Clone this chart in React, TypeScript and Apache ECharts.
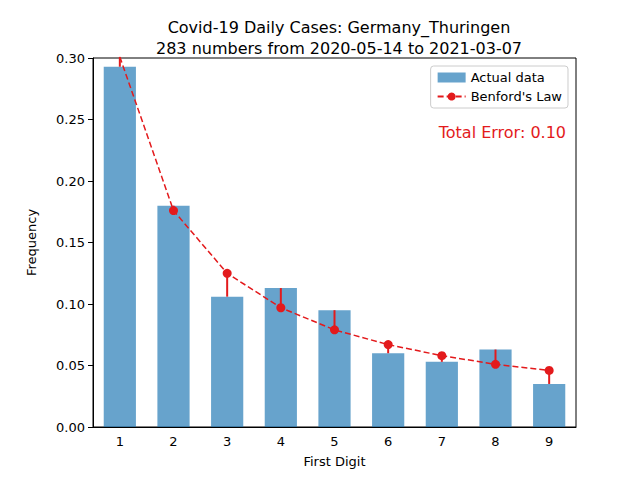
import React, { useEffect, useRef } from 'react';
import * as echarts from 'echarts';

const digits = ['1', '2', '3', '4', '5', '6', '7', '8', '9'];
const actual = [0.293, 0.18, 0.106, 0.113, 0.095, 0.06, 0.053, 0.063, 0.035];
const benford = [0.301, 0.176, 0.125, 0.097, 0.079, 0.067, 0.058, 0.051, 0.046];
const yTicks = [0, 0.05, 0.1, 0.15, 0.2, 0.25, 0.3];

const App: React.FC = () => {
  const ref = useRef<HTMLDivElement>(null);

  useEffect(() => {
    if (!ref.current) return;
    const chart = echarts.init(ref.current, undefined, { renderer: 'svg' });
    const red = '#e31a1c';
    const font = 'DejaVu Sans';

    chart.setOption({
      animation: false,
      textStyle: { fontFamily: font, color: '#000' },
      title: {
        text: 'Covid-19 Daily Cases: Germany_Thuringen\n283 numbers from 2020-05-14 to 2021-03-07',
        left: 334,
        textAlign: 'center',
        top: 12,
        textStyle: { fontFamily: font, fontSize: 16, fontWeight: 'normal', lineHeight: 21, color: '#000' }
      },
      grid: {
        left: 93, right: 64, top: 58, bottom: 53,
        show: true, borderColor: '#000', borderWidth: 1, backgroundColor: 'transparent'
      },
      legend: {
        orient: 'vertical',
        right: 72,
        top: 66,
        itemGap: 6,
        itemWidth: 28,
        itemHeight: 10,
        borderColor: '#ccc',
        borderWidth: 1,
        borderRadius: 3,
        padding: [5, 6],
        textStyle: { fontFamily: font, fontSize: 13, color: '#000' },
        data: [
          { name: 'Actual data', icon: 'rect' },
          { name: "Benford's Law" }
        ]
      },
      graphic: [{
        type: 'text',
        right: 74,
        top: 124,
        style: { text: 'Total Error: 0.10', fill: red, font: `16px "${font}"` }
      }],
      xAxis: {
        type: 'category',
        data: digits,
        name: 'First Digit',
        nameLocation: 'middle',
        nameGap: 28,
        nameTextStyle: { fontSize: 13, color: '#000' },
        axisLine: { lineStyle: { color: '#000' } },
        axisTick: { alignWithLabel: true, lineStyle: { color: '#000' } },
        axisLabel: { fontSize: 13, color: '#000' },
        splitLine: { show: false }
      },
      yAxis: {
        type: 'value',
        min: 0,
        max: 0.3 + 0.0001,
        interval: 0.05,
        name: 'Frequency',
        nameLocation: 'middle',
        nameGap: 55,
        nameTextStyle: { fontSize: 13, color: '#000' },
        axisLine: { show: true, lineStyle: { color: '#000' } },
        axisTick: { show: true, lineStyle: { color: '#000' } },
        axisLabel: {
          fontSize: 13, color: '#000',
          formatter: (v: number) => (yTicks.some(t => Math.abs(t - v) < 1e-6) ? v.toFixed(2) : '')
        },
        splitLine: { show: false }
      },
      series: [
        {
          name: 'Actual data',
          type: 'bar',
          data: actual,
          barWidth: '60%',
          itemStyle: { color: 'rgba(31,119,180,0.68)' }
        },
        {
          name: 'errors',
          type: 'custom',
          data: digits.map((_, i) => [i, benford[i], actual[i]]),
          renderItem: (_p: any, api: any) => {
            const a = api.coord([api.value(0), api.value(1)]);
            const b = api.coord([api.value(0), api.value(2)]);
            return {
              type: 'line',
              shape: { x1: a[0], y1: a[1], x2: b[0], y2: b[1] },
              style: { stroke: red, lineWidth: 2 }
            };
          },
          z: 3
        },
        {
          name: "Benford's Law",
          type: 'line',
          data: benford,
          symbol: 'circle',
          symbolSize: 9,
          itemStyle: { color: red },
          lineStyle: { color: red, type: [6, 3], width: 1.5 },
          z: 4
        }
      ]
    });
    return () => chart.dispose();
  }, []);

  return <div ref={ref} style={{ width: 640, height: 480, margin: -8 }} />;
};

export default App;
